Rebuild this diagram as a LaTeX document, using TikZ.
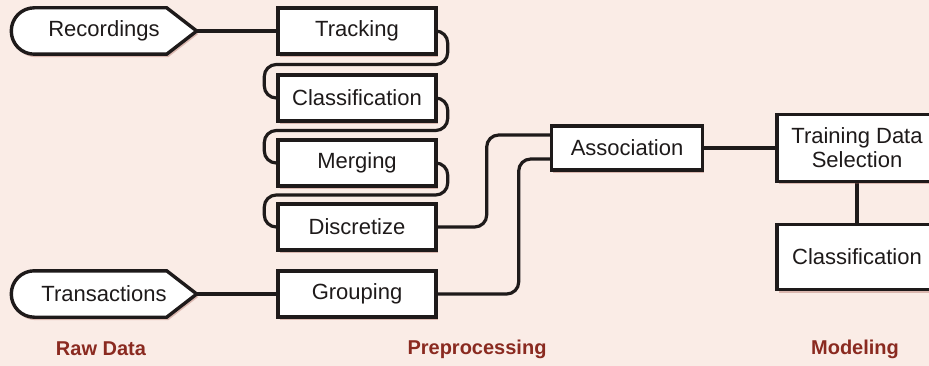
\documentclass[tikz,border=0pt]{standalone}
\usepackage{fontspec}
\setmainfont{Liberation Sans}
\usetikzlibrary{calc,backgrounds,shadows}

\definecolor{paper}{RGB}{250,236,230}
\definecolor{ink}{RGB}{30,26,26}
\definecolor{phasered}{RGB}{138,42,32}
\definecolor{shadowred}{RGB}{160,85,75}

\tikzset{
  boxshadow/.style={drop shadow={shadow xshift=1.5pt, shadow yshift=-3pt, fill=shadowred, opacity=.35}},
  stage/.style={draw=ink, line width=3.4pt, fill=white, minimum width=158, minimum height=46,
    inner sep=2pt, align=center, font=\fontsize{22}{24}\selectfont, text=ink, boxshadow},
  source/.style={minimum width=185, minimum height=46, inner sep=0pt,
    font=\fontsize{22}{24}\selectfont, text=ink},
  wire/.style={draw=ink, line width=3.2pt, rounded corners=12},
  phase/.style={font=\bfseries\fontsize{20}{22}\selectfont, text=phasered},
}

\begin{document}
\begin{tikzpicture}[x=1pt, y=-1pt]
  \useasboundingbox (0,0) rectangle (929,366);

  \begin{scope}[every node/.style={stage}]
    \node (track) at (357,31)  {Tracking};
    \node (clas)  at (357,98)  {Classification};
    \node (merg)  at (357,163) {Merging};
    \node (disc)  at (357,227) {Discretize};
    \node (group) at (357,294) {Grouping};
    \node[minimum width=151, minimum height=44] (assoc)  at (627,148) {Association};
    \node[minimum width=160, minimum height=67] (select) at (857,148) {Training Data\\Selection};
    \node[minimum width=160, minimum height=65] (model)  at (857,257) {Classification};
  \end{scope}

  \node[source] (rec)   at (104,31)  {Recordings};
  \node[source] (trans) at (104,294) {Transactions};

  \node[phase] (raw)  at (101,349) {Raw Data};
  \node[phase] (prep) at (477,349) {Preprocessing};
  \node[phase] (modl) at (855,349) {Modeling};

  \begin{pgfonlayer}{background}
    \fill[paper] (0,0) rectangle (929,366);

    % chain of preprocessing steps
    \foreach \a/\b in {track/clas, clas/merg, merg/disc}
      \draw[wire] ([xshift=-12]\a.east) -- ++(22,0) |- ($(\a.south)!.5!(\b.north)$)
        -| ([xshift=-12]\b.west) -- ([xshift=12]\b.west);

    \draw[wire] (rec.east) -- (track.west);
    \draw[wire] (trans.east) -- (group.west);
    \draw[wire] (disc.east) -- ++(49,0) |- ([yshift=13]assoc.west);
    \draw[wire] (group.east) -- ++(81,0) |- ([yshift=-11]assoc.west);
    \draw[wire] (assoc.east) -- (select.west);
    \draw[wire] (select.south) -- (model.north);

    % raw data sources
    \foreach \s in {rec, trans}
      \draw[wire, line width=3.4pt, sharp corners, fill=white, boxshadow] (\s.south) [rounded corners=23]
        -- (\s.south west) -- (\s.north west) -- (\s.north) [sharp corners]
        -- ([xshift=-30]\s.north east) -- (\s.east) -- ([xshift=-30]\s.south east) -- cycle;
  \end{pgfonlayer}
\end{tikzpicture}
\end{document}
